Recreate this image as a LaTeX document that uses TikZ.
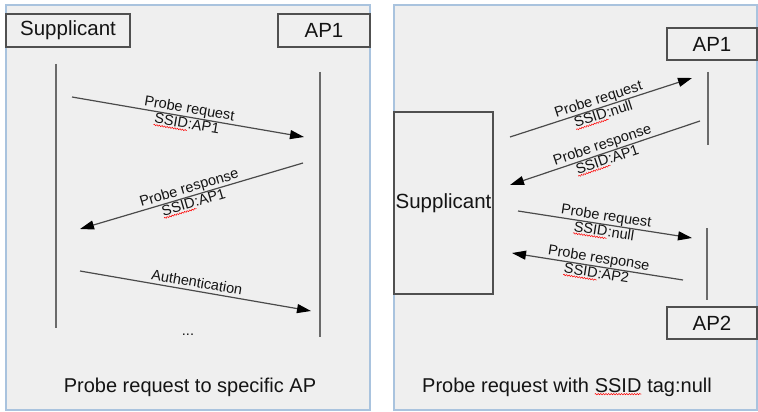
\documentclass[tikz,border=0pt]{standalone}
\usepackage{fontspec}
\setmainfont{Liberation Sans}
\usetikzlibrary{arrows.meta,decorations.pathmorphing}

\definecolor{panelfill}{HTML}{EFEFEF}
\definecolor{panelborder}{HTML}{A9C3DE}
\definecolor{boxline}{HTML}{505050}
\definecolor{msgline}{HTML}{4A4A4A}
\definecolor{lifeline}{HTML}{6A6A6A}
\definecolor{textcol}{HTML}{141414}

% word with a red wavy spell-check underline
\newcommand\spellmark[1]{\tikz[baseline=(w.base)]{%
  \node[inner sep=0pt,outer sep=0pt] (w) {#1};
  \draw[-,red,line width=0.5pt,decorate,
        decoration={snake,amplitude=0.7pt,segment length=2.6pt}]
    ([yshift=-1.8pt]w.south west) -- ([yshift=-1.8pt]w.south east);}}

\begin{document}
\begin{tikzpicture}[x=1pt,y=-1pt,
  every node/.style={text=textcol},
  panel/.style={fill=panelfill,draw=panelborder,line width=1.8pt},
  actor/.style={draw=boxline,line width=1.1pt,fill=panelfill,inner sep=0pt,
                font=\fontsize{20.5}{24}\selectfont},
  life/.style={draw=lifeline,line width=1.3pt},
  msg/.style={draw=msgline,line width=1.2pt,
              -{Triangle[length=14pt,width=9pt,color=black]}},
  msglabel/.style={font=\fontsize{14.5}{15.5}\selectfont,align=center,inner sep=1pt},
  caption/.style={font=\fontsize{20}{24}\selectfont}]

\useasboundingbox (0,0) rectangle (758,412);
\fill[white] (0,0) rectangle (758,412);

% two panels
\draw[panel] (6,5) rectangle (370,410);
\draw[panel] (394,5) rectangle (757,410);

% ---- left panel: probe request to a specific AP ----
\node[actor,minimum width=124pt,minimum height=33pt] (supA) at (68,30.5) {Supplicant};
\node[actor,minimum width=92pt,minimum height=33pt] (apA) at (324,30.5) {AP1};

\coordinate (sA1) at (56,64);  \coordinate (sA2) at (56,328);
\coordinate (aA1) at (320,72); \coordinate (aA2) at (320,337);
\draw[life] (sA1) -- (sA2);
\draw[life] (aA1) -- (aA2);

\coordinate (m1s) at (72,97);   \coordinate (m1e) at (304,137);
\coordinate (m2s) at (303,163); \coordinate (m2e) at (80,229);
\coordinate (m3s) at (80,271);  \coordinate (m3e) at (311,311);

\draw[msg] (m1s) -- node[msglabel,sloped] {Probe request\\\spellmark{SSID}:AP1} (m1e);
\draw[msg] (m2s) -- node[msglabel,sloped] {Probe response\\\spellmark{SSID}:AP1} (m2e);
\draw[msg] (m3s) -- node[msglabel,sloped,above=2pt] {Authentication} (m3e);

\node[msglabel,anchor=base] (dots) at (188,335) {...};
\node[caption] (capA) at (190,387) {Probe request to specific AP};

% ---- right panel: probe request with null SSID ----
\node[actor,minimum width=90pt,minimum height=32pt] (apB1) at (712,44) {AP1};
\node[actor,minimum width=99pt,minimum height=182pt] (supB) at (443.5,203) {Supplicant};
\node[actor,minimum width=90pt,minimum height=32pt] (apB2) at (712,323) {AP2};

\coordinate (b1a) at (708,72);  \coordinate (b1b) at (708,145);
\coordinate (b2a) at (707,228); \coordinate (b2b) at (707,300);
\draw[life] (b1a) -- (b1b);
\draw[life] (b2a) -- (b2b);

\coordinate (m5s) at (510,137); \coordinate (m5e) at (692,78);
\coordinate (m6s) at (700,121); \coordinate (m6e) at (510,185);
\coordinate (m7s) at (518,211); \coordinate (m7e) at (692,238);
\coordinate (m8s) at (683,280); \coordinate (m8e) at (512,253);

\draw[msg] (m5s) -- node[msglabel,sloped] {Probe request\\\spellmark{SSID}:null} (m5e);
\draw[msg] (m6s) -- node[msglabel,sloped] {Probe response\\\spellmark{SSID}:AP1} (m6e);
\draw[msg] (m7s) -- node[msglabel,sloped] {Probe request\\\spellmark{SSID}:null} (m7e);
\draw[msg] (m8s) -- node[msglabel,sloped] {Probe response\\\spellmark{SSID}:AP2} (m8e);

\node[caption] (capB) at (567,387) {Probe request with \spellmark{SSID} tag:null};
\end{tikzpicture}
\end{document}
